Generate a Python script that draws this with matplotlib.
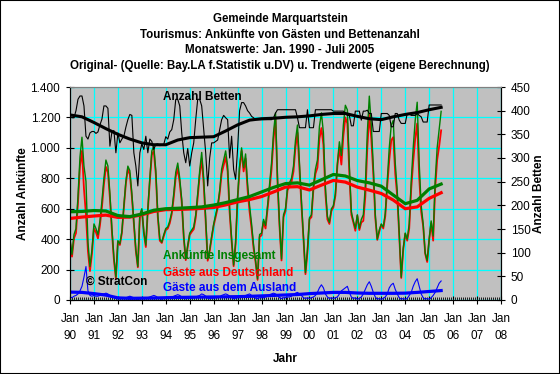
import matplotlib
matplotlib.use("Agg")
import matplotlib.pyplot as plt
from matplotlib.patches import Rectangle
from matplotlib.ticker import MultipleLocator, FixedLocator, FuncFormatter

plt.rcParams["font.family"] = ["Liberation Sans", "DejaVu Sans"]

# monthly values, Jan 1990 - Jul 2005
ankuenfte_insgesamt = [
    400, 300, 430, 470, 680, 940, 1070, 880, 780, 380, 220, 330,     # 1990
    500, 470, 430, 520, 650, 800, 920, 880, 700, 470, 280, 150,      # 1991
    390, 370, 450, 620, 780, 880, 850, 700, 520, 330, 220, 560,      # 1992
    600, 450, 360, 600, 800, 980, 1010, 850, 560, 400, 380, 430,     # 1993
    470, 480, 520, 580, 700, 840, 900, 800, 660, 420, 270, 360,      # 1994
    440, 460, 480, 560, 700, 850, 970, 800, 530, 270, 330, 420,      # 1995
    500, 560, 620, 720, 860, 920, 980, 880, 600, 400, 230, 380,      # 1996
    680, 880, 1000, 870, 960, 760, 620, 500, 360, 260, 140, 430,     # 1997
    440, 530, 490, 620, 760, 900, 1100, 1230, 800, 500, 270, 560,    # 1998
    600, 740, 770, 800, 880, 1050, 1150, 900, 650, 420, 180, 330,    # 1999
    540, 560, 750, 860, 920, 1140, 1230, 1100, 740, 550, 510, 600,   # 2000
    620, 700, 900, 1040, 950, 1150, 1280, 1250, 880, 580, 520, 470,  # 2001
    560, 470, 530, 560, 750, 1100, 1340, 1150, 880, 560, 400, 460,   # 2002
    500, 480, 570, 790, 1000, 1150, 1180, 900, 720, 440, 150, 340,   # 2003
    440, 400, 500, 780, 1000, 1180, 1300, 900, 620, 500, 310, 260,   # 2004
    400, 520, 420, 780, 1000, 1120, 1240,                            # 2005
]
gaeste_deutschland = [
    380, 285, 405, 440, 640, 880, 980, 730, 560, 320, 190, 305,
    470, 445, 405, 490, 610, 760, 875, 840, 670, 450, 265, 140,
    382, 362, 440, 610, 765, 860, 825, 680, 505, 322, 215, 552,
    590, 440, 348, 585, 780, 955, 980, 825, 545, 390, 375, 420,
    460, 470, 505, 565, 675, 810, 865, 770, 640, 410, 262, 350,
    428, 448, 465, 540, 675, 820, 930, 765, 505, 258, 322, 408,
    488, 545, 605, 700, 830, 885, 940, 845, 575, 385, 222, 368,
    665, 865, 980, 845, 930, 725, 580, 470, 340, 248, 132, 415,
    425, 515, 470, 595, 725, 860, 1055, 1190, 770, 485, 260, 545,
    585, 720, 750, 775, 845, 1005, 1100, 860, 620, 405, 170, 315,
    530, 545, 730, 830, 870, 1060, 1130, 1020, 700, 530, 500, 585,
    610, 685, 880, 1000, 890, 1080, 1200, 1160, 830, 560, 510, 455,
    555, 460, 510, 520, 680, 1000, 1220, 1060, 830, 540, 395, 450,
    495, 470, 550, 750, 920, 1050, 1070, 830, 680, 425, 145, 330,
    435, 390, 470, 730, 910, 1060, 1160, 810, 580, 485, 305, 250,
    395, 505, 390, 730, 920, 1010, 1115,
]
gaeste_ausland = [
    20, 15, 25, 30, 40, 60, 90, 150, 220, 60, 30, 25,
    30, 25, 25, 30, 40, 40, 45, 40, 30, 20, 15, 10,
    8, 8, 10, 10, 15, 20, 25, 20, 15, 8, 5, 8,
    10, 10, 12, 15, 20, 25, 30, 25, 15, 10, 5, 10,
    10, 10, 15, 15, 25, 30, 35, 30, 20, 10, 8, 10,
    12, 12, 15, 20, 25, 30, 40, 35, 25, 12, 8, 12,
    12, 15, 15, 20, 30, 35, 40, 35, 25, 15, 8, 12,
    15, 15, 20, 25, 30, 35, 40, 30, 20, 12, 8, 15,
    15, 15, 20, 25, 35, 40, 45, 40, 30, 15, 10, 15,
    15, 20, 20, 25, 35, 45, 50, 40, 30, 15, 10, 15,
    10, 15, 20, 30, 50, 80, 100, 80, 40, 20, 10, 15,
    10, 15, 20, 40, 60, 70, 80, 90, 50, 20, 10, 15,
    5, 10, 20, 40, 70, 100, 120, 90, 50, 20, 5, 10,
    5, 10, 20, 40, 80, 100, 110, 70, 40, 15, 5, 10,
    5, 10, 30, 50, 90, 120, 140, 90, 40, 15, 5, 10,
    5, 15, 30, 50, 80, 110, 125,
]
anzahl_betten = [
    388, 385, 385, 400, 424, 431, 431, 410, 346, 340, 353, 356,
    356, 352, 355, 370, 382, 410, 410, 405, 325, 355, 358, 311,
    353, 332, 340, 346, 365, 381, 392, 390, 311, 283, 241, 311,
    330, 318, 346, 311, 340, 335, 318, 329, 330, 326, 328, 329,
    345, 340, 355, 360, 381, 424, 424, 410, 353, 311, 290, 320,
    283, 311, 332, 381, 424, 424, 410, 360, 311, 241, 300, 332,
    332, 335, 338, 360, 381, 390, 385, 381, 300, 346, 276, 255,
    320, 400, 417, 417, 410, 400, 395, 388, 385, 381, 381, 381,
    381, 381, 381, 381, 381, 381, 385, 395, 402, 402, 402, 402,
    402, 402, 402, 402, 402, 402, 385, 364, 364, 364, 364, 402,
    364, 364, 364, 402, 402, 402, 402, 402, 402, 402, 402, 402,
    399, 399, 399, 399, 399, 399, 395, 390, 390, 368, 368, 399,
    399, 399, 380, 399, 399, 401, 394, 394, 356, 356, 356, 356,
    394, 394, 394, 394, 390, 366, 366, 394, 394, 380, 373, 373,
    373, 394, 394, 390, 390, 390, 394, 390, 387, 376, 376, 376,
    412, 412, 412, 412, 412, 412, 412,
]

# trend values (own calculation), every January and July 1990 - 2005
trend_insgesamt = [580, 582, 588, 585, 555, 548, 565, 590, 600, 603, 607, 612,
                   624, 640, 660, 680, 710, 740, 765, 770, 755, 790, 825, 815,
                   785, 770, 748, 690, 633, 655, 730, 762]
trend_deutschland = [536, 545, 552, 558, 543, 545, 560, 582, 594, 595, 598, 602,
                     608, 625, 645, 660, 680, 710, 742, 745, 723, 755, 786, 775,
                     742, 722, 700, 657, 600, 612, 668, 705]
trend_ausland = [52, 50, 42, 32, 14, 11, 12, 13, 15, 17, 18, 19,
                 20, 21, 22, 24, 27, 30, 33, 36, 42, 46, 50, 50,
                 46, 44, 44, 44, 45, 50, 56, 62]
trend_betten = [391, 387, 375, 362, 350, 340, 332, 328, 328, 338, 343, 344,
                345, 357, 370, 380, 383, 384, 386, 387, 389, 392, 394, 394,
                388, 383, 381, 387, 392, 396, 402, 407]

year_labels = ["90", "91", "92", "93", "94", "95", "96", "97", "98", "99",
               "00", "01", "02", "03", "04", "05", "06", "07", "08"]

months = list(range(len(ankuenfte_insgesamt)))
trend_months = list(range(0, 6 * len(trend_insgesamt), 6))
year_ticks = [12 * i for i in range(len(year_labels))]

W, H = 560, 374
fig = plt.figure(figsize=(W / 100, H / 100), dpi=100)
fig.patches.append(Rectangle((0, 0), 1, 1, transform=fig.transFigure,
                             fill=False, edgecolor="black", linewidth=1.5))

ax = fig.add_axes([70 / W, 1 - 300 / H, 431 / W, 213 / H])
ax.set_facecolor("#c0c0c0")
ax.set_xlim(year_ticks[0], year_ticks[-1])
ax.set_ylim(0, 1400)
ax.set_axisbelow(True)
ax.grid(True, which="major", color="#00ffff", linewidth=0.9)

ax.plot(months, gaeste_deutschland, color="#ff0000", linewidth=1.3)
ax.plot(months, ankuenfte_insgesamt, color="#008000", linewidth=1.0)
ax.plot(months, gaeste_ausland, color="#0000ff", linewidth=0.8)
ax.plot(trend_months, trend_deutschland, color="#ff0000", linewidth=2.3)
ax.plot(trend_months, trend_insgesamt, color="#008000", linewidth=2.3)
ax.plot(trend_months, trend_ausland, color="#0000ff", linewidth=2.3)

ax.xaxis.set_major_locator(FixedLocator(year_ticks))
ax.xaxis.set_minor_locator(MultipleLocator(1))
ax.set_xticklabels(["Jan\n" + y for y in year_labels])
ax.yaxis.set_major_locator(MultipleLocator(200))
ax.yaxis.set_major_formatter(FuncFormatter(lambda v, p: f"{int(v):,}".replace(",", ".")))
ax.tick_params(axis="x", which="major", direction="inout", length=6,
               labelsize=8.5, pad=6)
ax.tick_params(axis="x", which="minor", direction="in", length=2)
ax.tick_params(axis="y", direction="inout", length=6, labelsize=8.5, pad=4)
for lbl in ax.get_xticklabels():
    lbl.set_linespacing(1.6)
for side in ("left", "bottom", "right"):
    ax.spines[side].set_color("black")
ax.spines["top"].set_color("#808080")

ax2 = ax.twinx()
ax2.set_ylim(0, 450)
ax2.plot(months, anzahl_betten, color="black", linewidth=0.8)
ax2.plot(trend_months, trend_betten, color="black", linewidth=2.2)
ax2.yaxis.set_major_locator(MultipleLocator(50))
ax2.tick_params(axis="y", direction="inout", length=6, labelsize=8.5, pad=4)
ax2.spines["top"].set_color("#808080")

ax.set_ylabel("Anzahl Ankünfte", fontsize=8.5, fontweight="bold", labelpad=1)
ax2.set_ylabel("Anzahl Betten", fontsize=8.5, fontweight="bold", labelpad=2)
ax.set_xlabel("Jahr", fontsize=8.5, fontweight="bold", labelpad=8)

titles = ["Gemeinde Marquartstein",
          "Tourismus: Ankünfte von Gästen und Bettenanzahl",
          "Monatswerte: Jan. 1990 - Juli 2005",
          "Original- (Quelle: Bay.LA f.Statistik u.DV) u. Trendwerte (eigene Berechnung)"]
for i, t in enumerate(titles):
    fig.text(0.5, 1 - (19 + 15.5 * i) / H, t, ha="center", va="center",
             fontsize=8.3, fontweight="bold")

def fig_text(x, y, s, color):
    fig.text(x / W, 1 - y / H, s, ha="left", va="center", fontsize=8.5,
             fontweight="bold", color=color)

fig_text(163, 97, "Anzahl Betten", "black")
fig_text(163, 256, "Ankünfte Insgesamt", "#008000")
fig_text(163, 273, "Gäste aus Deutschland", "#ff0000")
fig_text(163, 288, "Gäste aus dem Ausland", "#0000ff")
fig_text(86, 282, "© StratCon", "black")

fig.savefig("out.png", dpi=100)
